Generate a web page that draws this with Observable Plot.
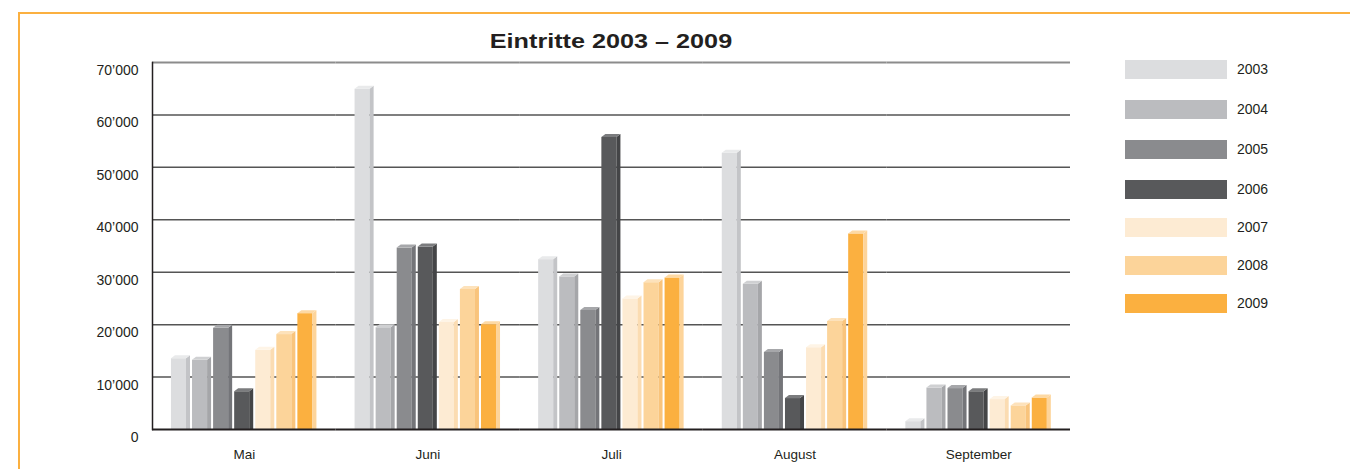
<!DOCTYPE html>
<html>
<head>
<meta charset="utf-8">
<script src="https://cdn.jsdelivr.net/npm/d3@7"></script>
<script src="https://cdn.jsdelivr.net/npm/@observablehq/plot@0.6"></script>
<style>
  html, body { margin: 0; padding: 0; background: #fff; }
  #wrap { position: relative; width: 1350px; height: 469px; overflow: hidden; background: #fff;
          font-family: "Liberation Sans", Arial, Helvetica, sans-serif; color: #231f20; }
  #border { position: absolute; left: 18px; top: 12px; right: -4px; bottom: -4px;
            border-top: 2px solid #fbb040; border-left: 2px solid #fbb040; }
  #title { position: absolute; left: 0; top: 30px; width: 1222px; text-align: center;
           font-size: 21px; line-height: 21px; font-weight: bold; }
  #title span { display: inline-block; transform: scaleX(1.2); }
  #chart { position: absolute; left: 0; top: 0; }
  #legend { position: absolute; left: 1125px; top: 0; }
  .item { position: absolute; left: 0; width: 160px; height: 19px; }
  .sw { position: absolute; left: 0; top: 0; width: 102px; height: 19px; }
  .lab { position: absolute; left: 112px; top: 0; line-height: 19px; font-size: 14px; }
</style>
</head>
<body>
<div id="wrap">
  <div id="border"></div>
  <div id="title"><span>Eintritte 2003 – 2009</span></div>
  <div id="chart"></div>
  <div id="legend"></div>
</div>
<script>
// Monthly admissions per season, May to September
const months = ["Mai", "Juni", "Juli", "August", "September"];
const years = ["2003", "2004", "2005", "2006", "2007", "2008", "2009"];

const y2003 = [13500, 64900, 32400, 52700, 1500];
const y2004 = [13200, 19400, 29100, 27700, 7900];
const y2005 = [19300, 34600, 22700, 14700, 7800];
const y2006 = [7200, 34800, 55700, 5900, 7200];
const y2007 = [15100, 20400, 24900, 15600, 5700];
const y2008 = [18100, 26700, 28000, 20600, 4500];
const y2009 = [22100, 20000, 28900, 37300, 6000];

const yTicks = [0, 10000, 20000, 30000, 40000, 50000, 60000, 70000];

const series = [y2003, y2004, y2005, y2006, y2007, y2008, y2009];
const rows = [];
years.forEach((year, i) => {
  months.forEach((month, j) => rows.push({month, year, value: series[i][j]}));
});

// front, side and top shades of each year's extruded bar
const frontShade = ["#dcdddf", "#bbbcbf", "#8a8b8e", "#58595b", "#fdebd3", "#fcd49a", "#fbb040"];
const sideShade  = ["#c3c4c7", "#a5a6a9", "#747579", "#444547", "#fbdcb2", "#f9c47c", "#fdd49a"];
const topShade   = ["#e9eaeb", "#cfd0d2", "#a6a7aa", "#7b7c7e", "#fef4e6", "#fde2bb", "#fdd9a4"];

const DX = 4, DY = 3;

// Adds a right side face and a top cap to each bar rectangle
function extrude(index, scales, values, dimensions, context, next) {
  const g = next(index, scales, values, dimensions, context);
  const ns = "http://www.w3.org/2000/svg";
  for (const rect of Array.from(g.querySelectorAll("rect"))) {
    const i = rect.__data__;
    const k = years.indexOf(rows[i].year);
    const x = +rect.getAttribute("x"), y = +rect.getAttribute("y");
    const w = +rect.getAttribute("width"), h = +rect.getAttribute("height");
    const xr = x + w, yb = y + h;
    const s = document.createElementNS(ns, "polygon");
    s.setAttribute("points", `${xr},${y} ${xr + DX},${y - DY} ${xr + DX},${yb} ${xr},${yb}`);
    s.setAttribute("fill", sideShade[k]);
    const t = document.createElementNS(ns, "polygon");
    t.setAttribute("points", `${x},${y} ${x + DX},${y - DY} ${xr + DX},${y - DY} ${xr},${y}`);
    t.setAttribute("fill", topShade[k]);
    g.appendChild(s);
    g.appendChild(t);
  }
  return g;
}

const fmt = d => d === 0 ? "0" : d3.format(",")(d).replace(/,/g, "\u2019");

const chart = Plot.plot({
  width: 1100,
  height: 469,
  marginLeft: 152,
  marginRight: 30,
  marginTop: 62,
  marginBottom: 40,
  style: {fontFamily: "'Liberation Sans', Arial, Helvetica, sans-serif", fontSize: "14px", color: "#231f20", background: "transparent"},
  fx: {domain: months, padding: 0, round: false, label: null},
  x: {domain: years, paddingInner: 0.2857, paddingOuter: 1, align: 0.45, round: false, axis: null},
  y: {domain: [0, 70000], label: null},
  color: {domain: years, range: frontShade},
  marks: [
    Plot.ruleY(yTicks.filter(d => d > 0 && d < 70000), {stroke: "#555", strokeWidth: 1.5}),
    Plot.ruleY([70000], {stroke: "#8c8c8c", strokeWidth: 2}),
    Plot.barY(rows, {fx: "month", x: "year", y: "value", fill: "year", render: extrude}),
    Plot.ruleY([0], {stroke: "#231f20", strokeWidth: 2}),
    Plot.frame({anchor: "left", facet: "super", stroke: "#231f20", strokeWidth: 1.5}),
    Plot.axisY({ticks: yTicks, tickFormat: fmt, tickSize: 0, tickPadding: 14, dy: 8, label: null}),
    Plot.axisFx({anchor: "bottom", tickSize: 0, tickPadding: 20, label: null, fontSize: 13.5})
  ]
});
document.getElementById("chart").appendChild(chart);

// Legend on the right
const legendTops = [60, 100, 140, 180, 218, 256, 294];
const legend = document.getElementById("legend");
years.forEach((year, i) => {
  const item = document.createElement("div");
  item.className = "item";
  item.style.top = legendTops[i] + "px";
  item.innerHTML = `<div class="sw" style="background:${frontShade[i]}"></div><div class="lab">${year}</div>`;
  legend.appendChild(item);
});
</script>
</body>
</html>
